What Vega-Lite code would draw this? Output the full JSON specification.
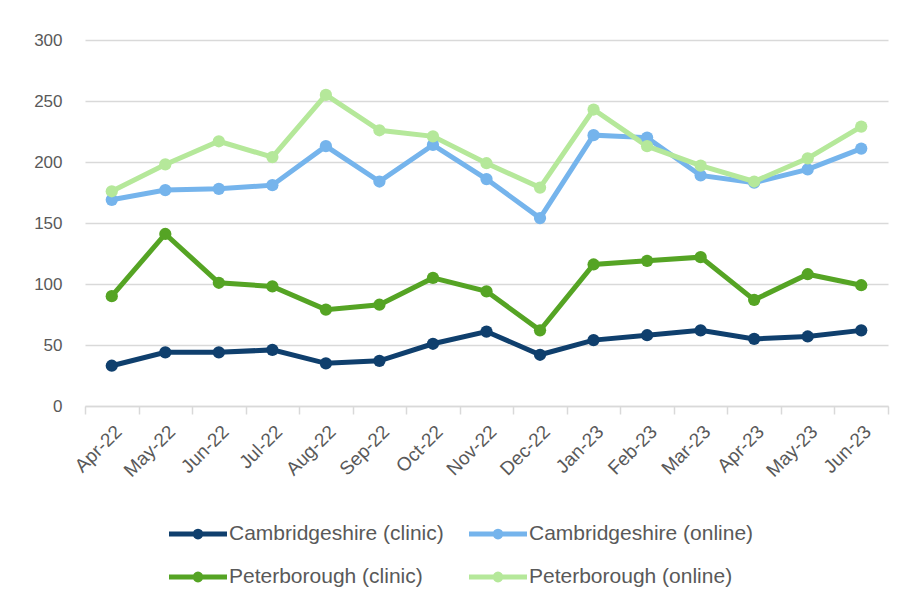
{
  "$schema": "https://vega.github.io/schema/vega-lite/v6.json",
  "autosize": "none",
  "width": 803,
  "height": 366,
  "padding": {"left": 85, "top": 40, "right": 17, "bottom": 204},
  "background": "white",
  "config": {
    "view": {"stroke": null},
    "font": "Liberation Sans"
  },
  "datasets": {
    "rows": [
      {"month": "Apr-22", "cc": 33, "co": 169, "pc": 90, "po": 176},
      {"month": "May-22", "cc": 44, "co": 177, "pc": 141, "po": 198},
      {"month": "Jun-22", "cc": 44, "co": 178, "pc": 101, "po": 217},
      {"month": "Jul-22", "cc": 46, "co": 181, "pc": 98, "po": 204},
      {"month": "Aug-22", "cc": 35, "co": 213, "pc": 79, "po": 255},
      {"month": "Sep-22", "cc": 37, "co": 184, "pc": 83, "po": 226},
      {"month": "Oct-22", "cc": 51, "co": 214, "pc": 105, "po": 221},
      {"month": "Nov-22", "cc": 61, "co": 186, "pc": 94, "po": 199},
      {"month": "Dec-22", "cc": 42, "co": 154, "pc": 62, "po": 179},
      {"month": "Jan-23", "cc": 54, "co": 222, "pc": 116, "po": 243},
      {"month": "Feb-23", "cc": 58, "co": 220, "pc": 119, "po": 213},
      {"month": "Mar-23", "cc": 62, "co": 189, "pc": 122, "po": 197},
      {"month": "Apr-23", "cc": 55, "co": 183, "pc": 87, "po": 184},
      {"month": "May-23", "cc": 57, "co": 194, "pc": 108, "po": 203},
      {"month": "Jun-23", "cc": 62, "co": 211, "pc": 99, "po": 229}
    ]
  },
  "data": {"name": "rows"},
  "transform": [
    {"fold": ["cc", "co", "pc", "po"], "as": ["key", "value"]},
    {"lookup": "key", "from": {"data": {"values": [
      {"key": "cc", "series": "Cambridgeshire (clinic)"},
      {"key": "co", "series": "Cambridgeshire (online)"},
      {"key": "pc", "series": "Peterborough (clinic)"},
      {"key": "po", "series": "Peterborough (online)"}
    ]}, "key": "key", "fields": ["series"]}}
  ],
  "encoding": {
    "x": {
      "field": "month", "type": "nominal",
      "sort": ["Apr-22","May-22","Jun-22","Jul-22","Aug-22","Sep-22","Oct-22","Nov-22","Dec-22","Jan-23","Feb-23","Mar-23","Apr-23","May-23","Jun-23"],
      "scale": {"type": "band", "paddingInner": 0, "paddingOuter": 0},
      "axis": {
        "title": null, "labelAngle": -45, "labelAlign": "right", "labelBaseline": "top",
        "labelFontSize": 19, "labelColor": "#595959", "labelPadding": 8,
        "tickBand": "extent", "tickColor": "#d9d9d9", "tickSize": 8, "tickWidth": 1.5,
        "domainColor": "#d9d9d9", "domainWidth": 1.5, "grid": false
      }
    },
    "y": {
      "field": "value", "type": "quantitative",
      "scale": {"domain": [0, 300]},
      "axis": {
        "title": null, "values": [0, 50, 100, 150, 200, 250, 300],
        "labelFontSize": 17, "labelColor": "#595959", "labelPadding": 23,
        "domain": false, "ticks": false, "gridColor": "#d9d9d9", "gridWidth": 1.5
      }
    },
    "color": {
      "field": "series", "type": "nominal",
      "scale": {
        "domain": ["Cambridgeshire (clinic)", "Cambridgeshire (online)", "Peterborough (clinic)", "Peterborough (online)"],
        "range": ["#0f3f6d", "#75b4ec", "#55a424", "#b5e89a"]
      },
      "legend": {
        "title": null, "orient": "none", "legendX": 96, "legendY": 477,
        "direction": "horizontal", "columns": 2, "columnPadding": 15, "rowPadding": 13,
        "labelFontSize": 21, "labelColor": "#595959", "labelOffset": 14, "labelLimit": 400,
        "symbolType": "M-2,0H2M-0.2,0A0.2,0.2,0,1,1,0.2,0A0.2,0.2,0,1,1,-0.2,0Z",
        "symbolSize": 841, "symbolStrokeWidth": 5,
        "encode": {"symbols": {"update": {"fill": {"scale": "color", "field": "value"}}}}
      }
    }
  },
  "layer": [
    {"mark": {"type": "line", "strokeWidth": 5}},
    {"mark": {"type": "circle", "size": 150, "opacity": 1}}
  ]
}
